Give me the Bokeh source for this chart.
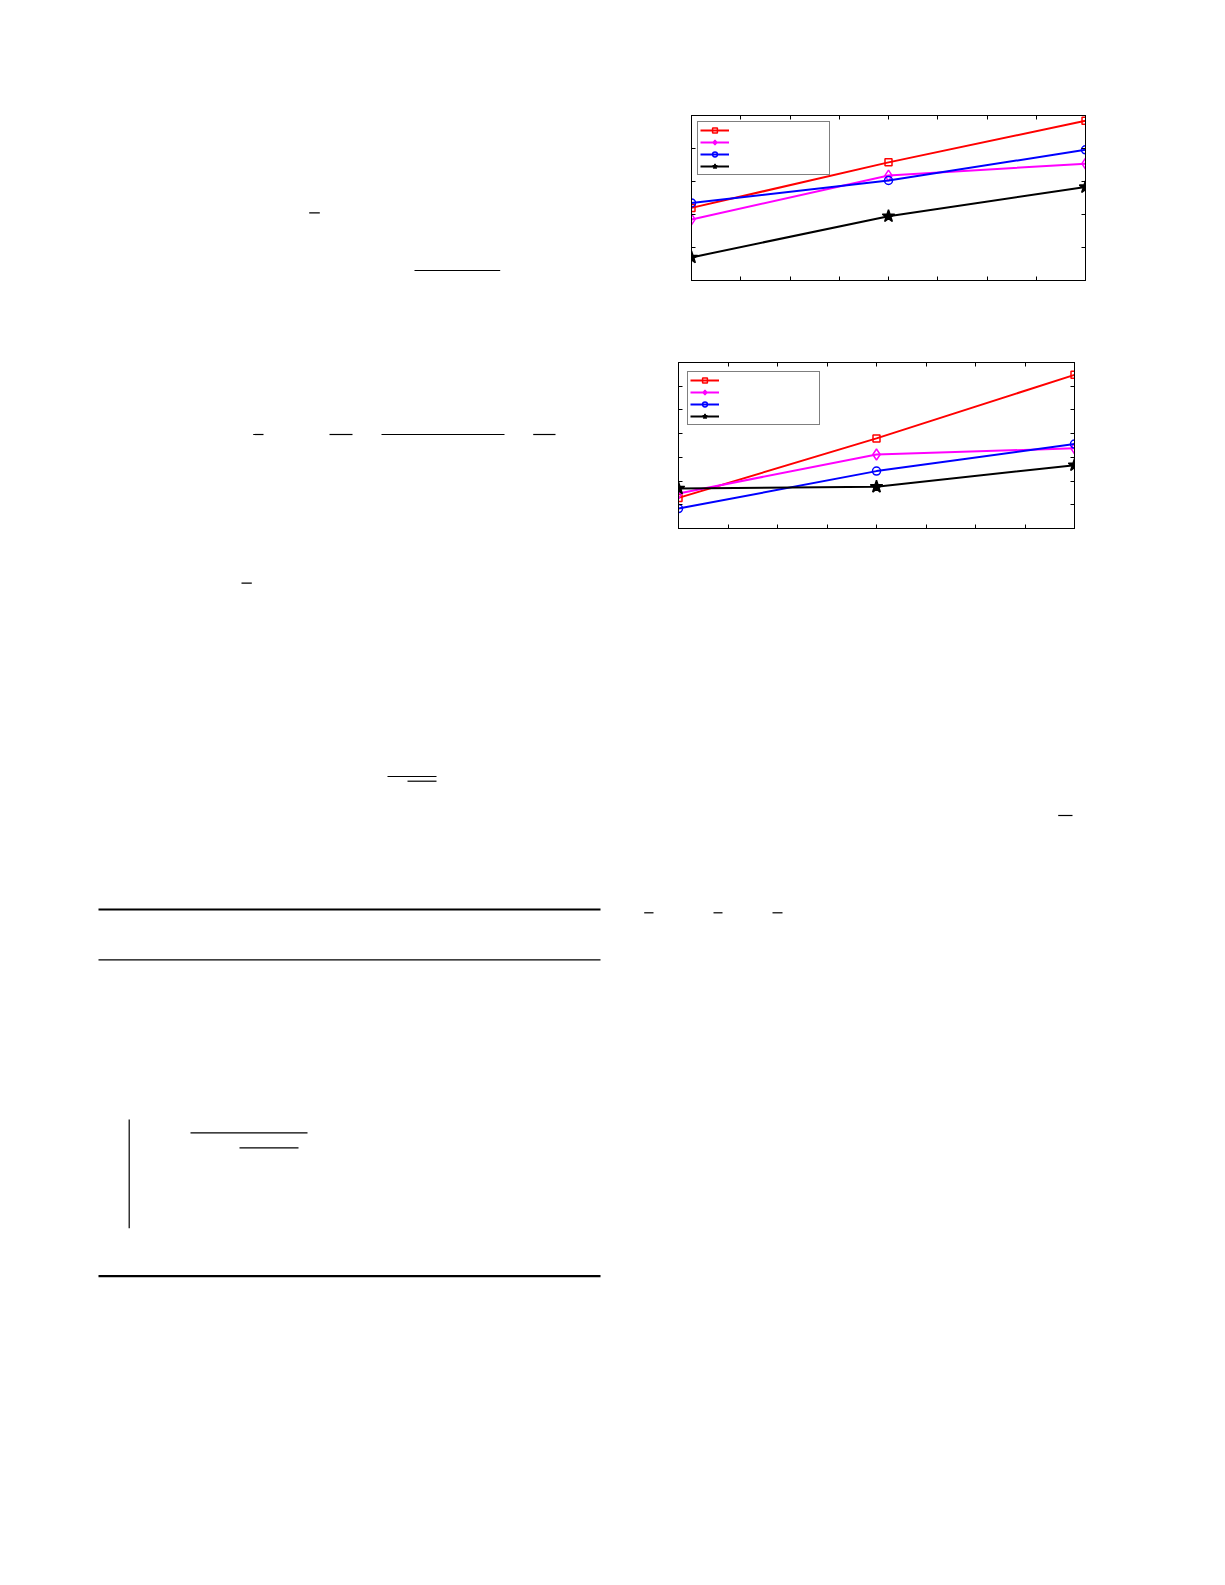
from bokeh.plotting import figure
from bokeh.layouts import row, column
from bokeh.models import (ColumnDataSource, Range1d, LinearAxis, FixedTicker,
                          Legend, LegendItem, Spacer, CustomLabelingPolicy)
from bokeh.core.properties import value
from bokeh.embed import file_html
from bokeh.resources import INLINE

# chart data
x_pts = [1, 2, 3]
x_ticks = [1, 1.25, 1.5, 1.75, 2, 2.25, 2.5, 2.75, 3]

top_red = [2.20, 3.58, 4.84]
top_magenta = [1.85, 3.18, 3.54]
top_blue = [2.35, 3.03, 3.96]
top_black = [0.70, 1.95, 2.83]
top_yticks = [0, 1, 2, 3, 4, 5]

bot_red = [1.29, 3.80, 6.48]
bot_magenta = [1.48, 3.12, 3.38]
bot_blue = [0.84, 2.42, 3.56]
bot_black = [1.69, 1.76, 2.67]
bot_yticks = [0, 1, 2, 3, 4, 5, 6, 7]

# rules / fraction bars of the page (page pixels)
up_x0 = [308.7, 414, 252.7, 329, 381, 532.7, 241]
up_x1 = [319.3, 499.7, 263, 352, 504, 555, 251.3]
up_y0 = [212.3, 270, 434, 434, 434, 434, 582.7]
up_y1 = [212.3, 270, 434, 434, 434, 434, 582.7]
up_w = [1.2, 1.2, 1.2, 1.2, 1.2, 1.2, 1.2]

lo_x0 = [387, 407, 1057.7, 643.7, 713, 772, 98, 98, 98, 128.7, 190, 239]
lo_x1 = [436, 436, 1072, 653, 722, 782, 600, 600, 600, 128.7, 307, 298]
lo_y0 = [776, 780.7, 815, 912.3, 912.3, 912.3, 909, 959.3, 1275.7, 1119, 1132.3, 1147.3]
lo_y1 = [776, 780.7, 815, 912.3, 912.3, 912.3, 909, 959.3, 1275.7, 1227.7, 1132.3, 1147.3]
lo_w = [1.2, 1.2, 1.2, 1.2, 1.2, 1.2, 2.2, 1.2, 2.2, 1.2, 1.2, 1.2]

styles = [("#ff0000", "square", 7, None),
          ("#ff00ff", "diamond", 11, None),
          ("#0000ff", "circle", 8, None),
          ("#000000", "star", 13, "#000000")]

# no tick labels at all (the axes only carry inward ticks)
no_labels = "for (const i of indices) indices.unset(i)"


def make_chart(series, yticks, fw, fh, margin):
    p = figure(frame_width=fw, frame_height=fh, title=None,
               x_range=Range1d(x_pts[0], x_pts[-1]),
               y_range=Range1d(yticks[0], yticks[-1]),
               min_border_left=20, min_border_right=20,
               min_border_top=20, min_border_bottom=20,
               toolbar_location=None, output_backend="svg")
    p.add_layout(LinearAxis(), "above")
    p.add_layout(LinearAxis(), "right")
    p.xaxis.ticker = FixedTicker(ticks=x_ticks)
    p.yaxis.ticker = FixedTicker(ticks=yticks)
    p.axis.major_tick_in = 4
    p.axis.major_tick_out = 0
    p.axis.minor_tick_line_color = None
    p.axis.major_label_text_font_size = "8px"
    p.axis.major_label_standoff = 0
    p.axis.major_label_policy = CustomLabelingPolicy(code=no_labels)
    p.axis.axis_line_color = "black"
    p.axis.major_tick_line_color = "black"
    p.grid.visible = False
    p.outline_line_color = "black"

    items = []
    for ys, (c, m, s, f) in zip(series, styles):
        ln = p.line(x_pts, ys, line_color=c, line_width=2)
        sc = p.scatter(x_pts, ys, marker=m, size=s, line_color=c,
                       fill_color=f, line_width=1.5)
        items.append(LegendItem(label=value(""), renderers=[ln, sc]))
    leg = Legend(items=items, location="top_left", margin=margin,
                 padding=2, spacing=0, glyph_width=29, glyph_height=12,
                 label_height=12, label_width=93, label_standoff=5,
                 label_text_font_size="8px",
                 border_line_color="black", border_line_width=1,
                 background_fill_alpha=1)
    p.add_layout(leg)
    return p


def page_fig(x0, x1, y0, y1, xs0, xs1, ys0, ys1, ws):
    p = figure(width=x1 - x0, height=y1 - y0, title=None,
               x_range=Range1d(x0, x1), y_range=Range1d(y1, y0),
               min_border=0, x_axis_location=None, y_axis_location=None,
               toolbar_location=None, output_backend="svg")
    p.grid.visible = False
    p.outline_line_color = None
    src = ColumnDataSource(dict(x0=xs0, x1=xs1, y0=ys0, y1=ys1, w=ws))
    p.segment("x0", "y0", "x1", "y1", source=src, line_color="black",
              line_width="w")
    return p


chart1 = make_chart([top_red, top_magenta, top_blue, top_black], top_yticks,
                    394, 165, 6)
chart2 = make_chart([bot_red, bot_magenta, bot_blue, bot_black], bot_yticks,
                    396, 166, 9)

left = page_fig(0, 630, 0, 600, up_x0, up_x1, up_y0, up_y1, up_w)
right = column(Spacer(width=587, height=95),
               row(Spacer(width=41, height=205), chart1),
               Spacer(width=587, height=42),
               row(Spacer(width=28, height=206), chart2),
               Spacer(width=587, height=52))
bottom = page_fig(0, 1217, 600, 1300, lo_x0, lo_x1, lo_y0, lo_y1, lo_w)

p = column(row(left, right), bottom)

open("out.html", "w").write(file_html(p, INLINE))
